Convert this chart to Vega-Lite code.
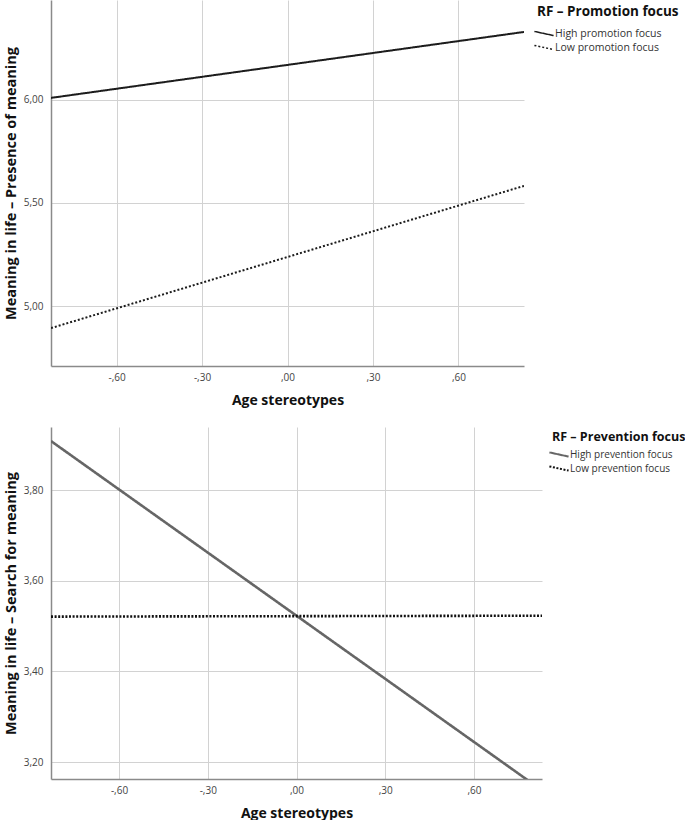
{
  "$schema": "https://vega.github.io/schema/vega-lite/v6.json",
  "padding": {"top": 0, "left": 3, "right": 0, "bottom": 0},
  "background": "white",
  "spacing": 20,
  "datasets": {
    "promotion": [
      {"stereo": -0.83, "meaning": 6.01, "group": "High promotion focus"},
      {"stereo": 0.83, "meaning": 6.33, "group": "High promotion focus"},
      {"stereo": -0.83, "meaning": 4.893, "group": "Low promotion focus"},
      {"stereo": 0.83, "meaning": 5.583, "group": "Low promotion focus"}
    ],
    "prevention": [
      {"stereo": -0.83, "meaning": 3.908, "group": "High prevention focus"},
      {"stereo": 0.83, "meaning": 3.138, "group": "High prevention focus"},
      {"stereo": -0.83, "meaning": 3.521, "group": "Low prevention focus"},
      {"stereo": 0.83, "meaning": 3.523, "group": "Low prevention focus"}
    ]
  },
  "vconcat": [
    {
      "width": 473,
      "height": 366,
      "data": {"name": "promotion"},
      "mark": {"type": "line", "strokeWidth": 2, "clip": true},
      "encoding": {
        "x": {
          "field": "stereo", "type": "quantitative", "title": "Age stereotypes",
          "scale": {"domain": [-0.83, 0.83], "nice": false, "zero": false},
          "axis": {"values": [-0.6, -0.3, 0, 0.3, 0.6], "labelExpr": "(datum.value < 0 ? '-' : '') + replace(format(abs(datum.value), '.2f'), '0.', ',')", "titlePadding": 11}
        },
        "y": {
          "field": "meaning", "type": "quantitative", "title": "Meaning in life – Presence of meaning",
          "scale": {"domain": [4.709, 6.485], "nice": false, "zero": false},
          "axis": {"values": [5, 5.5, 6], "labelExpr": "replace(format(datum.value, '.2f'), '.', ',')"}
        },
        "detail": {"field": "group"},
        "color": {
          "field": "group", "type": "nominal", "title": "RF – Promotion focus",
          "scale": {"domain": ["High promotion focus", "Low promotion focus"], "range": ["#1c1c1c", "#1c1c1c"]},
          "legend": {"offset": 8, "padding": 5, "titleFontSize": 13.5, "labelFontSize": 10.5, "titlePadding": 8, "rowPadding": 1}
        },
        "strokeDash": {
          "field": "group", "type": "nominal", "title": "RF – Promotion focus",
          "scale": {"domain": ["High promotion focus", "Low promotion focus"], "range": [[1, 0], [2, 2]]},
          "legend": {"offset": 8, "padding": 5, "titleFontSize": 13.5, "labelFontSize": 10.5, "titlePadding": 8, "rowPadding": 1}
        }
      }
    },
    {
      "width": 491,
      "height": 352,
      "data": {"name": "prevention"},
      "mark": {"type": "line", "strokeWidth": 2.6, "clip": true},
      "encoding": {
        "x": {
          "field": "stereo", "type": "quantitative", "title": "Age stereotypes",
          "scale": {"domain": [-0.83, 0.83], "nice": false, "zero": false},
          "axis": {"values": [-0.6, -0.3, 0, 0.3, 0.6], "labelExpr": "(datum.value < 0 ? '-' : '') + replace(format(abs(datum.value), '.2f'), '0.', ',')", "titlePadding": 11}
        },
        "y": {
          "field": "meaning", "type": "quantitative", "title": "Meaning in life – Search for meaning",
          "scale": {"domain": [3.163, 3.939], "nice": false, "zero": false},
          "axis": {"values": [3.2, 3.4, 3.6, 3.8], "labelExpr": "replace(format(datum.value, '.2f'), '.', ',')"}
        },
        "detail": {"field": "group"},
        "color": {
          "field": "group", "type": "nominal", "title": "RF – Prevention focus",
          "scale": {"domain": ["High prevention focus", "Low prevention focus"], "range": ["#666666", "#111111"]},
          "legend": {"offset": 6, "padding": 4, "titleFontSize": 12.5, "labelFontSize": 10, "symbolStrokeWidth": 2, "titlePadding": 4}
        },
        "strokeDash": {
          "field": "group", "type": "nominal", "title": "RF – Prevention focus",
          "scale": {"domain": ["High prevention focus", "Low prevention focus"], "range": [[1, 0], [2, 1.6]]},
          "legend": {"offset": 6, "padding": 4, "titleFontSize": 12.5, "labelFontSize": 10, "symbolStrokeWidth": 2, "titlePadding": 4}
        }
      }
    }
  ],
  "resolve": {
    "scale": {"color": "independent", "strokeDash": "independent", "x": "independent", "y": "independent"},
    "legend": {"color": "independent", "strokeDash": "independent"}
  },
  "config": {
    "view": {"stroke": null},
    "font": "Open Sans",
    "axis": {
      "grid": true,
      "gridColor": "#d2d2d2",
      "gridWidth": 1,
      "domainColor": "#8a8a8a",
      "domainWidth": 1.5,
      "ticks": false,
      "labelFont": "Open Sans",
      "labelFontSize": 10,
      "labelColor": "#444444",
      "labelPadding": 6,
      "titleFont": "Open Sans",
      "titleFontSize": 14,
      "titleFontWeight": "bold",
      "titleColor": "#111111",
      "titlePadding": 9
    },
    "axisY": {"labelPadding": 8, "titlePadding": 5, "titleFontSize": 14.5},
    "legend": {
      "orient": "right",
      "symbolType": "M-1.6,-0.35L1.6,0.35",
      "symbolSize": 144,
      "symbolStrokeWidth": 1.5,
      "titleFont": "Open Sans",
      "titleFontWeight": "bold",
      "titleColor": "#111111",
      "titlePadding": 5,
      "labelFont": "Open Sans",
      "labelColor": "#333333",
      "labelOffset": 4,
      "rowPadding": 0
    }
  }
}
